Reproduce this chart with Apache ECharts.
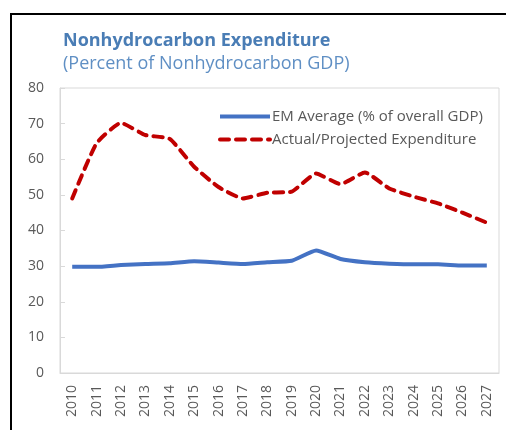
<!DOCTYPE html>
<html>
<head>
<meta charset="utf-8">
<script src="https://cdn.jsdelivr.net/npm/echarts@6/dist/echarts.min.js"></script>
<style>
  html, body { margin: 0; padding: 0; background: #fff; }
  #chart { width: 506px; height: 430px; }
</style>
</head>
<body>
<div id="chart"></div>
<script>
  // 数据
  const years = ['2010', '2011', '2012', '2013', '2014', '2015', '2016', '2017', '2018',
    '2019', '2020', '2021', '2022', '2023', '2024', '2025', '2026', '2027'];
  const emAverage = [29.8, 29.8, 30.3, 30.6, 30.8, 31.4, 31.0, 30.6, 31.1,
    31.5, 34.4, 32.0, 31.1, 30.7, 30.5, 30.5, 30.2, 30.2];
  const expenditure = [49.0, 64.5, 70.2, 66.8, 65.7, 57.9, 52.2, 49.0, 50.6,
    50.9, 56.0, 53.0, 56.3, 51.8, 49.5, 47.6, 45.0, 42.2];
  const yTicks = { min: 0, max: 80, interval: 10 };

  const font = '"Open Sans", "Noto Sans", sans-serif';
  const myChart = echarts.init(document.getElementById('chart'));

  const option = {
    backgroundColor: '#fff',
    animation: false,
    textStyle: { fontFamily: font },
    title: {
      text: 'Nonhydrocarbon Expenditure',
      subtext: '(Percent of Nonhydrocarbon GDP)',
      left: 58,
      top: 27,
      itemGap: 5,
      textStyle: { fontFamily: font, fontSize: 18, fontWeight: 'bold', color: '#4A7DB5' },
      subtextStyle: { fontFamily: font, fontSize: 18, color: '#5F8FC4' }
    },
    legend: {
      orient: 'vertical',
      left: 213,
      top: 104,
      itemWidth: 50,
      itemHeight: 14,
      itemGap: 8,
      itemStyle: { opacity: 0 },
      lineStyle: { width: 4 },
      textStyle: { fontFamily: font, fontSize: 15, color: '#595959', padding: [0, 0, 0, -3] },
      data: ['EM Average (% of overall GDP)', 'Actual/Projected Expenditure']
    },
    grid: {
      left: 60,
      right: 7,
      top: 88,
      bottom: 57,
      show: true,
      borderColor: '#D9D9D9',
      borderWidth: 1
    },
    xAxis: {
      type: 'category',
      data: years,
      boundaryGap: true,
      axisLine: { lineStyle: { color: '#D9D9D9', width: 1 } },
      axisTick: { inside: true, length: 5, lineStyle: { color: '#D9D9D9' } },
      axisLabel: { rotate: 90, margin: 12, fontSize: 14, color: '#595959', interval: 0 }
    },
    yAxis: {
      type: 'value',
      min: yTicks.min,
      max: yTicks.max,
      interval: yTicks.interval,
      axisLine: { show: true, lineStyle: { color: '#D9D9D9' } },
      axisTick: { show: true, inside: true, length: 5, lineStyle: { color: '#D9D9D9' } },
      splitLine: { show: false },
      axisLabel: { margin: 16, fontSize: 14, color: '#595959' }
    },
    series: [
      {
        name: 'EM Average (% of overall GDP)',
        type: 'line',
        data: emAverage,
        smooth: 0.15,
        symbol: 'none',
        lineStyle: { color: '#4472C4', width: 4 },
        itemStyle: { color: '#4472C4' }
      },
      {
        name: 'Actual/Projected Expenditure',
        type: 'line',
        data: expenditure,
        smooth: 0.15,
        symbol: 'none',
        lineStyle: { color: '#C00000', width: 4, type: [9, 7], cap: 'round' },
        itemStyle: { color: '#C00000' }
      }
    ],
    graphic: [
      {
        type: 'rect',
        shape: { x: 11, y: 14, width: 600, height: 500 },
        style: { fill: 'none', stroke: '#000', lineWidth: 2 },
        silent: true
      }
    ]
  };

  myChart.setOption(option);
</script>
</body>
</html>
